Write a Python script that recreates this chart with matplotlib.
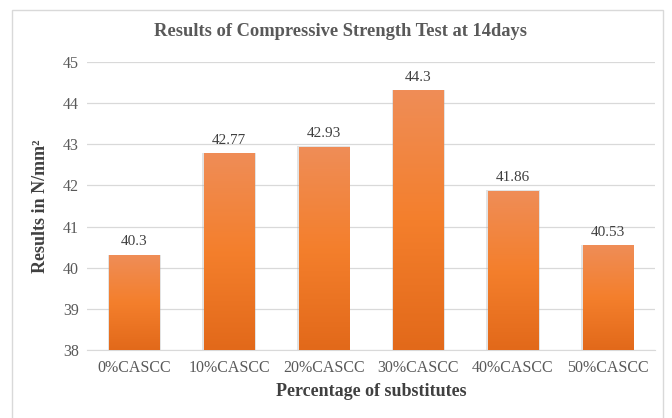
import numpy as np
import matplotlib.pyplot as plt
from matplotlib.colors import LinearSegmentedColormap
from matplotlib.patches import Rectangle

categories = ['0%CASCC', '10%CASCC', '20%CASCC', '30%CASCC', '40%CASCC', '50%CASCC']
strength = [40.3, 42.77, 42.93, 44.3, 41.86, 40.53]
value_labels = ['40.3', '42.77', '42.93', '44.3', '41.86', '40.53']
yticks = [38, 39, 40, 41, 42, 43, 44, 45]

plt.rcParams['font.family'] = ['Liberation Serif', 'DejaVu Serif']

fig = plt.figure(figsize=(6.72, 4.18), dpi=100)
ax = fig.add_axes([87 / 672, 1 - 350 / 418, (655 - 87) / 672, (350 - 62) / 418])

# outer frame around the chart (bottom edge runs off the image)
fig.patches.append(Rectangle((12 / 672, -0.02), (663 - 12) / 672, 1 - 10 / 418 + 0.02,
                             transform=fig.transFigure, fill=False,
                             edgecolor='#d9d9d9', linewidth=1.0))

cmap = LinearSegmentedColormap.from_list('bar', ['#e2691a', '#f47f2c', '#ef8d57'])
grad = np.linspace(0, 1, 256).reshape(-1, 1)

x = np.arange(len(categories))
width = 0.53
bars = ax.bar(x, [v - 38 for v in strength], bottom=38, width=width, color='none', zorder=2)
for b, lab in zip(bars, value_labels):
    x0, y0 = b.get_x(), b.get_y()
    w, h = b.get_width(), b.get_height()
    # soft shadow
    ax.add_patch(Rectangle((x0 - 0.015, y0), w + 0.03, h + 0.02, facecolor='#b0b0b0',
                           alpha=0.35, edgecolor='none', zorder=2))
    ax.imshow(grad, extent=(x0, x0 + w, y0, y0 + h), origin='lower', cmap=cmap,
              aspect='auto', zorder=3)
    ax.text(x0 + w / 2, y0 + h + 0.17, lab, ha='center', va='bottom',
            fontsize=11, color='#404040')

ax.set_xlim(-0.5, len(categories) - 0.5)
ax.set_ylim(38, 45)
ax.set_yticks(yticks)
ax.set_xticks(x)
ax.set_xticklabels(categories)
ax.tick_params(axis='both', length=0, labelsize=11.5, labelcolor='#595959')
ax.tick_params(axis='x', pad=7)
ax.tick_params(axis='y', pad=6)
ax.grid(axis='y', color='#d9d9d9', linewidth=0.9, zorder=0)
ax.set_axisbelow(True)
for s in ['top', 'right', 'left']:
    ax.spines[s].set_visible(False)
ax.spines['bottom'].set_color('#d9d9d9')

ax.set_xlabel('Percentage of substitutes', fontsize=13, fontweight='bold',
              color='#404040', labelpad=5)
ax.set_ylabel('Results in N/mm²', fontsize=13, fontweight='bold',
              color='#404040', labelpad=10)
fig.text(341 / 672, 1 - 32 / 418, 'Results of Compressive Strength Test at 14days',
         ha='center', va='center', fontsize=13.3, fontweight='bold', color='#595959')

fig.savefig('out.png', dpi=100)
